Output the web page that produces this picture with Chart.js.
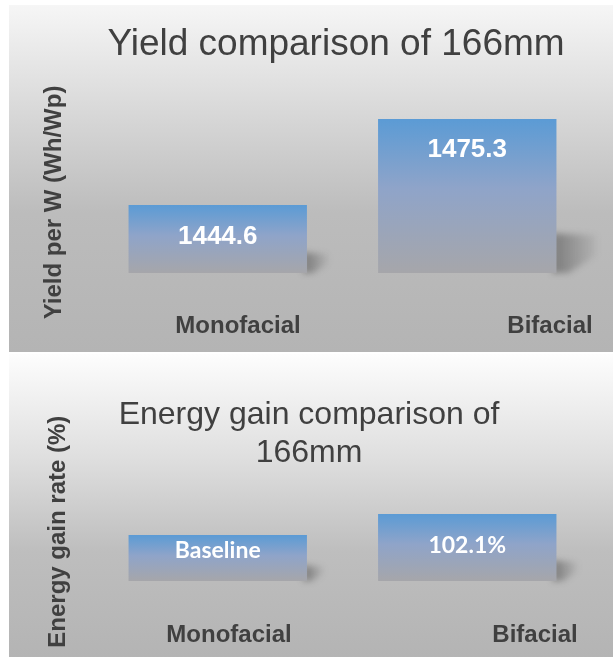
<!DOCTYPE html>
<html><head><meta charset="utf-8">
<script src="https://cdn.jsdelivr.net/npm/chart.js@4.4.0/dist/chart.umd.min.js"></script>
<style>
html,body{margin:0;padding:0;background:#fff;width:613px;height:657px;overflow:hidden;}
.panel{position:absolute;left:9px;width:604px;overflow:hidden;}
#p1{top:5px;height:347px;background:linear-gradient(to bottom,#f6f6f6 0%,#d9d9d9 30%,#bcbcbc 60%,#b4b4b4 100%);}
#p2{top:354px;height:303px;background:linear-gradient(to bottom,#fdfdfd 0%,#dedede 35%,#bebebe 65%,#b4b4b4 100%);}
canvas{position:absolute;left:0;top:0;}
</style></head>
<body>
<div class="panel" id="p1"><canvas id="c1" width="604" height="347"></canvas></div>
<div class="panel" id="p2"><canvas id="c2" width="604" height="326"></canvas></div>
<script>
// ---- data ----
const categories = ['Monofacial', 'Bifacial'];
const yieldValues = [1444.6, 1475.3];
const yieldLabels = ['1444.6', '1475.3'];
const gainValues = [100, 102.1];
const gainLabels = ['Baseline', '102.1%'];
const yieldTitle = 'Yield comparison of 166mm';
const yieldAxisTitle = 'Yield per W (Wh/Wp)';
const gainTitle = ['Energy gain comparison of', '166mm'];
const gainAxisTitle = 'Energy gain rate (%)';

Chart.defaults.font.family = "'Liberation Sans', Arial, sans-serif";
Chart.defaults.color = '#404040';

function barGradient(base) {
  return (c) => {
    const chart = c.chart;
    if (!chart.chartArea || c.type !== 'data') return '#5b9bd5';
    const y = chart.scales.y;
    const top = y.getPixelForValue(c.raw);
    const bottom = y.getPixelForValue(base);
    const g = chart.ctx.createLinearGradient(0, top, 0, bottom);
    g.addColorStop(0, '#5b9bd5');
    g.addColorStop(0.45, '#8fa4c9');
    g.addColorStop(1, '#a6a6aa');
    return g;
  };
}

// soft perspective shadow behind each bar's lower right corner
const barShadowPlugin = {
  id: 'barShadow',
  beforeDatasetsDraw(chart) {
    const ctx = chart.ctx;
    const meta = chart.getDatasetMeta(0);
    ctx.save();
    ctx.filter = 'blur(3px)';
    meta.data.forEach((bar) => {
      const h = bar.base - bar.y;
      const s = Math.min(42, 0.22 * h + 6);
      const xr = bar.x + bar.width / 2;
      const yb = bar.base;
      const g = ctx.createLinearGradient(xr, 0, xr + s, 0);
      g.addColorStop(0, 'rgba(60,60,60,0.45)');
      g.addColorStop(1, 'rgba(60,60,60,0.05)');
      ctx.fillStyle = g;
      ctx.beginPath();
      ctx.moveTo(xr - 4, yb - s);
      ctx.lineTo(xr + s, yb - s + 2);
      ctx.lineTo(xr + s, yb - s * 0.45);
      ctx.lineTo(xr + s * 0.3, yb);
      ctx.lineTo(xr - 4, yb);
      ctx.closePath();
      ctx.fill();
    });
    ctx.restore();
  }
};

const barLabelPlugin = {
  id: 'barLabels',
  afterDatasetsDraw(chart, args, opts) {
    const ctx = chart.ctx;
    const meta = chart.getDatasetMeta(0);
    ctx.save();
    ctx.font = opts.labelFont;
    ctx.fillStyle = opts.labelColor;
    ctx.textAlign = 'center';
    ctx.textBaseline = 'middle';
    meta.data.forEach((bar, i) => {
      ctx.fillText(opts.texts[i], bar.x, bar.y + opts.offsets[i]);
    });
    ctx.restore();
  }
};

function makeChart(id, cfg) {
  return new Chart(document.getElementById(id), {
    type: 'bar',
    data: {
      labels: categories,
      datasets: [{
        data: cfg.values,
        base: cfg.base,
        backgroundColor: barGradient(cfg.base),
        borderWidth: 0,
        categoryPercentage: 1,
        barPercentage: 0.715
      }]
    },
    plugins: [barShadowPlugin, barLabelPlugin],
    options: {
      responsive: false,
      animation: false,
      layout: { padding: cfg.layoutPadding },
      plugins: {
        legend: { display: false },
        tooltip: { enabled: false },
        title: {
          display: true,
          text: cfg.title,
          fullSize: true,
          color: '#404040',
          font: { size: cfg.titleSize, weight: 'normal', lineHeight: 1.2 },
          padding: cfg.titlePadding
        },
        barLabels: {
          texts: cfg.labels,
          offsets: cfg.labelOffsets,
          labelFont: cfg.labelFont,
          labelColor: '#ffffff'
        }
      },
      scales: {
        x: { type: 'category', display: false, offset: true },
        xl: {
          type: 'linear',
          axis: 'x',
          position: 'bottom',
          offset: false,
          min: cfg.labelMin,
          max: cfg.labelMax,
          bounds: 'data',
          grid: { display: false, drawTicks: false, offset: false },
          border: { display: false },
          afterBuildTicks: (s) => { s.ticks = categories.map((c, i) => ({ value: i })); },
          ticks: {
            autoSkip: false,
            maxRotation: 0,
            padding: cfg.tickPadding,
            color: '#404040',
            font: { size: 24, weight: 'bold', lineHeight: 1.2 },
            callback: (v) => categories[v]
          }
        },
        y: {
          min: cfg.yMin,
          max: cfg.yMax,
          grid: { display: false, drawTicks: false },
          border: { display: false },
          ticks: { display: false },
          title: {
            display: true,
            text: cfg.axisTitle,
            color: '#404040',
            font: { size: 24, weight: 'bold', lineHeight: 1.2 },
            padding: cfg.axisTitlePadding
          }
        }
      }
    }
  });
}

makeChart('c1', {
  values: yieldValues, labels: yieldLabels, base: 1420.3,
  yMin: 1410.7, yMax: 1480.3,
  title: yieldTitle, titleSize: 37,
  titlePadding: { top: 17.8, bottom: 37.8 },
  axisTitle: yieldAxisTitle, axisTitlePadding: { top: -40.4, bottom: 24.6 },
  layoutPadding: { left: 71, right: 21, top: 0, bottom: 0 },
  labelMin: -0.4647, labelMax: 1.1346, tickPadding: 11.6,
  labelFont: "bold 26px 'Liberation Sans', Arial, sans-serif",
  labelOffsets: [32, 31]
});

makeChart('c2', {
  values: gainValues, labels: gainLabels, base: 95.4,
  yMin: 94.42, yMax: 106.24,
  title: gainTitle, titleSize: 32,
  titlePadding: { top: 41.8, bottom: 0 },
  axisTitle: gainAxisTitle, axisTitlePadding: { top: 17.6, bottom: 20.6 },
  layoutPadding: { left: 17, right: 21, top: 0, bottom: 0 },
  labelMin: -0.4444, labelMax: 1.1863, tickPadding: 30.2,
  labelFont: "bold 23px Lato, 'Open Sans', sans-serif",
  labelOffsets: [16, 32]
});
</script>
</body></html>
